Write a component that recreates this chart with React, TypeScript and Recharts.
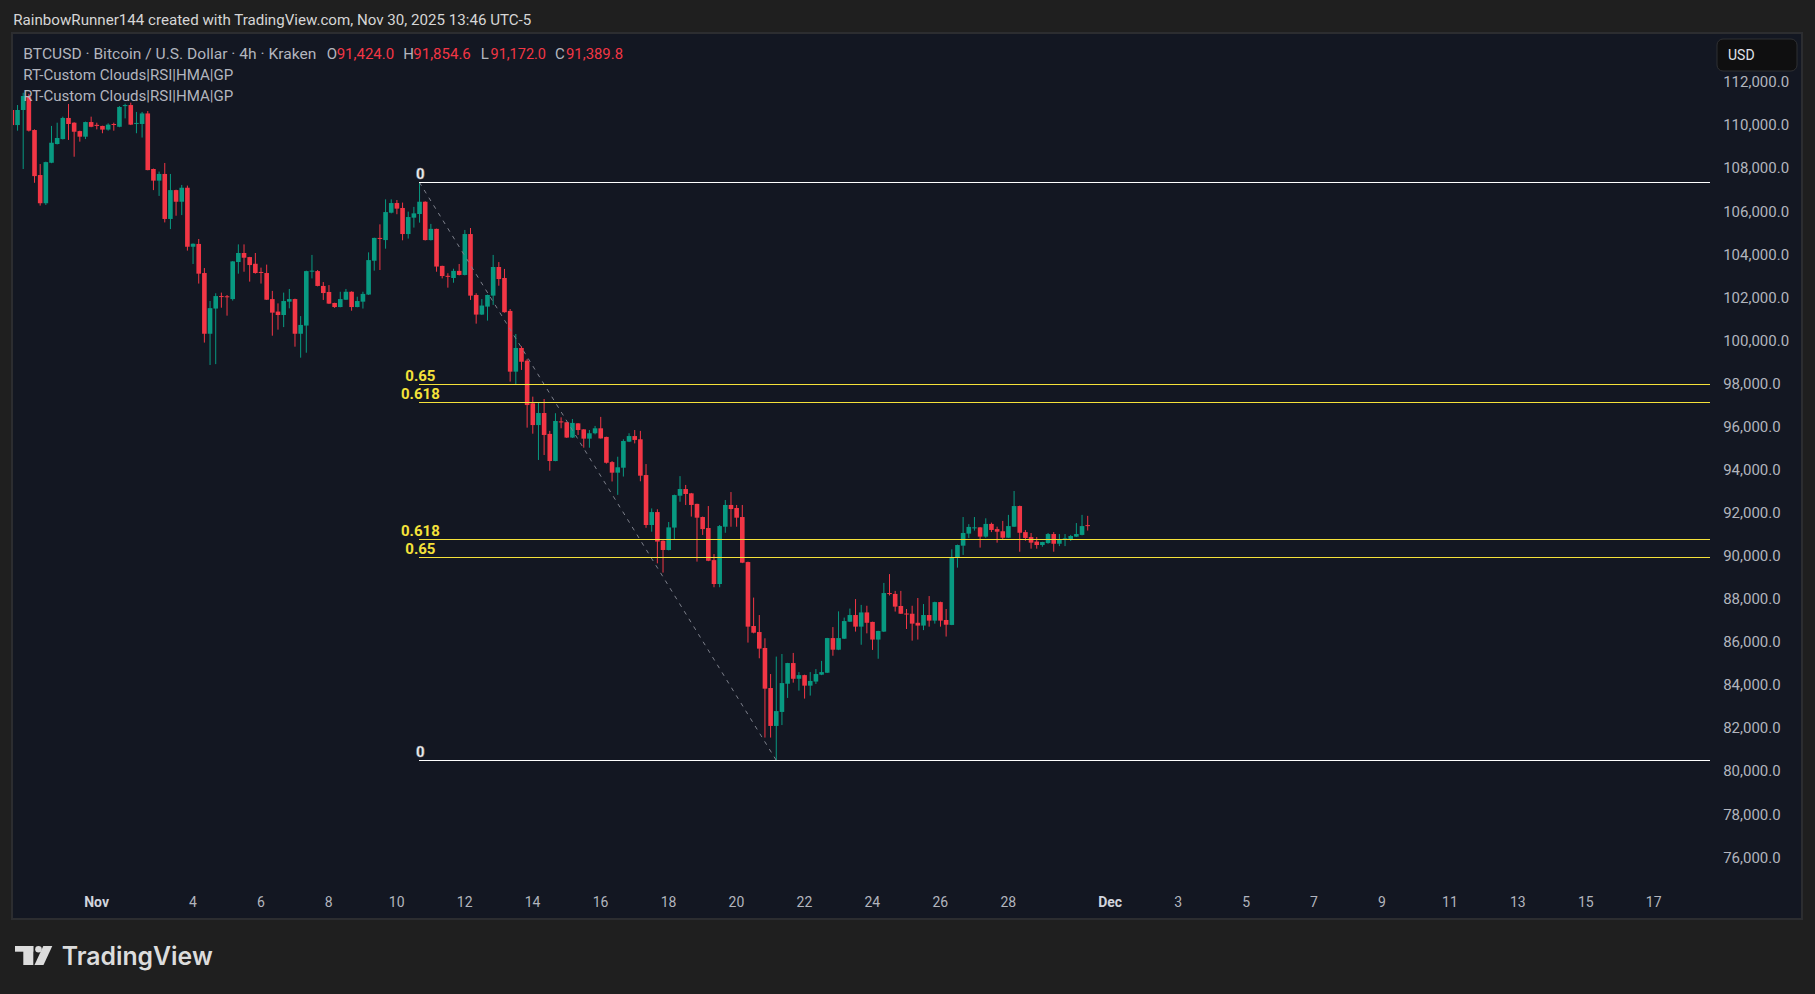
import { Bar, ComposedChart, ReferenceLine, XAxis, YAxis } from 'recharts'

const UP = '#089981'
const DOWN = '#f23645'
const FIB = '#f5e23a'
const AXIS_TEXT = '#b2b5be'
const FONT = 'Roboto, "Noto Sans", sans-serif'

// BTCUSD 4h bars from Kraken, first visible bar (Oct 29) up to the live bar on Nov 30
const opens = [
  110700, 110000, 110700, 111320, 109770, 107680, 106370, 108250, 109120, 109350,
  110330, 110110, 109720, 109460, 110140, 110010, 109960, 109790, 110050, 109920,
  110880, 110930, 110060, 110050, 110540, 107960, 107420, 107730, 105640, 106980,
  106440, 107090, 104350, 104480, 103130, 100310, 101480, 102060, 102050, 101920,
  103640, 104060, 103870, 103560, 103180, 103130, 101920, 101340, 101180, 101800,
  101920, 100310, 100690, 103200, 103220, 102530, 102250, 101740, 101550, 101890,
  102260, 101550, 101800, 102130, 103700, 104760, 104660, 105930, 106380, 106150,
  104940, 105700, 105870, 106440, 104660, 105180, 103460, 103000, 102900, 103230,
  103040, 104940, 102110, 101200, 101570, 102080, 103410, 102900, 101370, 98550,
  99650, 99060, 97080, 96070, 96630, 95660, 94400, 96240, 96200, 95490,
  96150, 95870, 95440, 95690, 95920, 95520, 94350, 93860, 94090, 95300,
  95560, 95410, 93750, 91430, 92030, 90700, 90270, 91310, 92790, 93100,
  92900, 92410, 91800, 91290, 89800, 88690, 91350, 92360, 92220, 91800,
  89710, 86740, 86460, 85720, 83860, 82100, 82750, 84060, 85020, 84290,
  84460, 83970, 84160, 84480, 84570, 86180, 85640, 86150, 86940, 87250,
  86710, 87370, 86930, 86110, 86480, 88270, 88230, 87670, 87320, 87310,
  86890, 86760, 87250, 86990, 87850, 87020, 86790, 89930, 90470, 91030,
  91300, 91320, 90890, 91480, 91240, 91140, 90840, 91350, 92310, 91100,
  90870, 90660, 90500, 90590, 91010, 90560, 90790, 90780, 90890, 90970,
  91424,
]
const highs = [
  110850, 110930, 111500, 111450, 109800, 108190, 108300, 109960, 110110, 110390,
  110980, 110130, 109740, 110160, 110390, 110110, 109970, 110080, 110110, 110880,
  110990, 111040, 110610, 110610, 110650, 107980, 107840, 108240, 107730, 107000,
  107220, 107190, 104500, 104710, 103360, 101830, 102190, 102220, 102110, 103680,
  104460, 104460, 103880, 104060, 103380, 103520, 102300, 101720, 102220, 102390,
  101940, 101130, 103240, 103970, 103270, 102710, 102570, 101750, 102260, 102390,
  102280, 102030, 102260, 104090, 104770, 105390, 106550, 106550, 106520, 106400,
  105980, 106200, 107342, 106460, 105410, 105190, 103470, 103120, 103330, 103550,
  105130, 105220, 102190, 101920, 102130, 103970, 103640, 103320, 101460, 100300,
  99730, 99140, 97390, 97130, 97280, 95800, 96620, 96430, 96210, 96350,
  96160, 95880, 95840, 96030, 96450, 95530, 94400, 94600, 95410, 95690,
  95840, 95800, 94260, 92200, 92160, 90720, 91570, 92840, 93700, 93290,
  92920, 92420, 91820, 92310, 90080, 91430, 92590, 92960, 92360, 92360,
  89730, 88060, 87250, 86170, 84510, 85320, 85440, 85030, 85490, 84600,
  84480, 84600, 84740, 85120, 86190, 86690, 87420, 87130, 87550, 87990,
  87720, 87680, 86940, 86520, 88740, 89150, 88370, 88370, 87530, 87680,
  88040, 87760, 88130, 87870, 87870, 87530, 90300, 90520, 91800, 91470,
  91800, 91330, 91740, 91540, 91350, 91620, 91900, 93010, 92330, 91200,
  91060, 90870, 90650, 91060, 91100, 91010, 91010, 90970, 91520, 91900,
  91854.6,
]
const lows = [
  109950, 109740, 107960, 109700, 107320, 106260, 106290, 108230, 109100, 109330,
  109310, 108530, 109230, 109350, 109900, 109800, 109620, 109740, 109740, 109900,
  110310, 110000, 109620, 109420, 107900, 106980, 106710, 105480, 105170, 105790,
  105820, 104170, 103550, 102640, 99900, 98860, 98900, 101520, 101150, 101850,
  103100, 103190, 102730, 103100, 102640, 101880, 100220, 100500, 100620, 101490,
  99710, 99200, 99430, 102880, 102510, 101880, 101690, 101510, 101540, 101880,
  101380, 101540, 101480, 102110, 103240, 103270, 104260, 105900, 105860, 104650,
  104730, 105240, 105470, 104640, 104640, 103190, 102880, 102450, 102680, 103020,
  103020, 101880, 100780, 101180, 100920, 101650, 102540, 101290, 98090, 97930,
  98630, 95950, 95670, 94450, 94680, 93950, 94390, 95920, 95470, 95470,
  95610, 95020, 95020, 95640, 95440, 94280, 93450, 92830, 93680, 95280,
  95220, 93460, 91300, 91120, 89650, 89220, 90250, 90760, 92510, 92360,
  91820, 89730, 90970, 89750, 88540, 88540, 91070, 91350, 91350, 89660,
  85970, 86400, 85240, 81560, 81560, 80517, 82140, 83400, 84110, 83740,
  83370, 83510, 84050, 84460, 84560, 85360, 85620, 86140, 86930, 86480,
  85870, 86400, 85630, 85220, 86460, 88160, 87410, 87300, 86600, 86060,
  86110, 86550, 86710, 86850, 86710, 86250, 86780, 89450, 90040, 90830,
  91170, 90380, 90840, 91100, 90610, 90780, 90830, 91340, 90190, 90700,
  90330, 90330, 90420, 90560, 90190, 90450, 90450, 90690, 90870, 90950,
  91172,
]
const closes = [
  110000, 110700, 111350, 109740, 107630, 106370, 108280, 109180, 109400, 110330,
  110050, 109690, 109460, 110140, 109920, 109960, 109790, 110020, 110020, 110840,
  110930, 110020, 110100, 110540, 107910, 107420, 107730, 105640, 106980, 106440,
  107090, 104350, 104490, 103100, 100310, 101500, 102060, 102030, 102030, 103670,
  104060, 103840, 103500, 103130, 103140, 101890, 101290, 101180, 101830, 101920,
  100310, 100720, 103220, 103240, 102530, 102200, 101710, 101550, 101920, 102260,
  101550, 101830, 102160, 103730, 104760, 104720, 105960, 106380, 106120, 104940,
  105730, 105900, 106440, 104660, 105180, 103430, 102990, 102970, 103230, 103040,
  104940, 102080, 101200, 101620, 102110, 103410, 102850, 101310, 98550, 99650,
  99010, 97000, 96070, 96630, 95610, 94400, 96260, 96210, 95490, 96170,
  95840, 95440, 95690, 95920, 95450, 94320, 93860, 94110, 95330, 95560,
  95380, 93720, 91430, 92030, 90660, 90270, 91320, 92820, 93100, 92870,
  92360, 91770, 91240, 89770, 88690, 91380, 92360, 92170, 91770, 89680,
  86710, 86430, 85690, 83830, 82100, 82790, 84090, 85020, 84290, 84460,
  83970, 84190, 84510, 84600, 86180, 85640, 86180, 86970, 87250, 86710,
  87370, 86890, 86110, 86510, 88270, 88230, 87640, 87310, 87290, 86850,
  86760, 87250, 86990, 87850, 86990, 86800, 89930, 90500, 91060, 91340,
  91320, 90890, 91480, 91200, 91120, 90840, 91380, 92310, 91070, 90830,
  90610, 90500, 90640, 91010, 90560, 90780, 90810, 90920, 91010, 91380,
  91389.8,
]

const priceTicks = [
  76000, 78000, 80000, 82000, 84000, 86000, 88000, 90000, 92000, 94000,
  96000, 98000, 100000, 102000, 104000, 106000, 108000, 110000, 112000,
]

// bar slot -> time scale label (month names are drawn bold)
const dayTicks = [
  { bar: 15, label: 'Nov' }, { bar: 32, label: '4' }, { bar: 44, label: '6' },
  { bar: 56, label: '8' }, { bar: 68, label: '10' }, { bar: 80, label: '12' },
  { bar: 92, label: '14' }, { bar: 104, label: '16' }, { bar: 116, label: '18' },
  { bar: 128, label: '20' }, { bar: 140, label: '22' }, { bar: 152, label: '24' },
  { bar: 164, label: '26' }, { bar: 176, label: '28' }, { bar: 194, label: 'Dec' },
  { bar: 206, label: '3' }, { bar: 218, label: '5' }, { bar: 230, label: '7' },
  { bar: 242, label: '9' }, { bar: 254, label: '11' }, { bar: 266, label: '13' },
  { bar: 278, label: '15' }, { bar: 290, label: '17' },
]
const months = ['Nov', 'Dec']

// fib retracements, both anchored on the Nov 10 high and the Nov 21 low
const HIGH_BAR = 72
const LOW_BAR = 135
const fibRatios = [0, 0.618, 0.65]

const SLOTS = 301 // bars plus the empty space on the right of the chart

const fmtPrice = (v: number) =>
  v.toLocaleString('en-US', { minimumFractionDigits: 1, maximumFractionDigits: 1 })

function renderCandle(props: any) {
  const { x, y, width, height, payload } = props
  if (!payload || payload.o == null || !Number.isFinite(y) || !height) return <g />
  const top = Math.min(y, y + height)
  const span = Math.abs(height)
  const { o, h, l, c } = payload
  const py = (v: number) => top + ((h - v) / (h - l)) * span
  const cx = x + width / 2
  const color = c >= o ? UP : DOWN
  const bodyTop = py(Math.max(o, c))
  const bodyBottom = py(Math.min(o, c))
  return (
    <g>
      <line x1={cx} x2={cx} y1={top} y2={top + span} stroke={color} strokeWidth={1} />
      <rect x={cx - 2.3} y={bodyTop} width={4.6} height={Math.max(1, bodyBottom - bodyTop)} fill={color} />
    </g>
  )
}

function DayTick(props: any) {
  const { x, y, payload } = props
  const tick = dayTicks.find((t) => t.bar === payload.value)
  if (!tick) return <g />
  const month = months.includes(tick.label)
  return (
    <text
      x={x}
      y={y + 19}
      textAnchor="middle"
      fill={month ? '#d1d4dc' : AXIS_TEXT}
      fontSize={14}
      fontWeight={month ? 700 : 400}
      fontFamily={FONT}
    >
      {tick.label}
    </text>
  )
}

function FibLabel(props: any) {
  const { viewBox, text, color } = props
  if (!viewBox) return null
  return (
    <text
      x={viewBox.x + 1}
      y={viewBox.y - 3.5}
      textAnchor="middle"
      fill={color}
      stroke={text === '0' ? '#8a8d96' : 'none'}
      strokeWidth={0.6}
      fontSize={15}
      fontWeight={700}
      fontFamily={FONT}
    >
      {text}
    </text>
  )
}

export default function App() {
  const rows = Array.from({ length: SLOTS }, (_, i) =>
    i < opens.length
      ? { i, o: opens[i], h: highs[i], l: lows[i], c: closes[i], range: [lows[i], highs[i]] }
      : { i },
  )
  const swingHigh = highs[HIGH_BAR]
  const swingLow = lows[LOW_BAR]
  const swing = swingHigh - swingLow
  const fibLevels = [
    ...fibRatios.map((r) => ({ price: swingHigh - r * swing, text: String(r) })),
    ...fibRatios.map((r) => ({ price: swingLow + r * swing, text: String(r) })),
  ]

  return (
    <div
      style={{
        position: 'absolute',
        left: 0,
        top: 0,
        width: 1815,
        height: 994,
        background: '#1f1f1f',
        overflow: 'hidden',
        fontFamily: FONT,
      }}
    >
      <div
        style={{
          position: 'absolute',
          left: 11,
          top: 32,
          width: 1792,
          height: 888,
          boxSizing: 'border-box',
          border: '2px solid #2c2d30',
          background: '#131722',
          overflow: 'hidden',
        }}
      >
        <div style={{ position: 'absolute', left: -13, top: -34 }}>
          <ComposedChart
            width={1815}
            height={994}
            data={rows}
            margin={{ top: 35, right: 21.8, bottom: 76, left: 8.87 }}
            barCategoryGap={0}
            barGap={0}
          >
            <XAxis
              dataKey="i"
              interval={0}
              tick={<DayTick />}
              tickLine={false}
              axisLine={false}
              tickSize={0}
              tickMargin={0}
              height={30}
            />
            <YAxis
              orientation="right"
              domain={[74575, 114182]}
              allowDataOverflow
              ticks={priceTicks}
              interval={0}
              tickFormatter={fmtPrice}
              tick={{ fill: AXIS_TEXT, fontSize: 15, fontFamily: FONT }}
              tickLine={false}
              axisLine={false}
              tickSize={0}
              tickMargin={10}
              width={80}
            />
            <Bar dataKey="range" shape={renderCandle} isAnimationActive={false} />
            <ReferenceLine
              segment={[
                { x: HIGH_BAR, y: swingHigh },
                { x: LOW_BAR, y: swingLow },
              ]}
              stroke="#7c7f8a"
              strokeDasharray="4 5"
              strokeWidth={1}
            />
            {fibLevels.map((f, k) => (
              <ReferenceLine
                key={k}
                segment={[
                  { x: HIGH_BAR, y: f.price },
                  { x: SLOTS - 1, y: f.price },
                ]}
                stroke={f.text === '0' ? '#ffffff' : FIB}
                strokeWidth={1}
                shapeRendering="crispEdges"
                label={<FibLabel text={f.text} color={f.text === '0' ? '#ffffff' : FIB} />}
              />
            ))}
          </ComposedChart>
        </div>
      </div>

      <svg
        width={1815}
        height={994}
        style={{ position: 'absolute', left: 0, top: 0, pointerEvents: 'none' }}
        fontFamily={FONT}
      >
        <text x={13.3} y={25} fill="#d6d6d6" fontSize={15} textLength={518} lengthAdjust="spacingAndGlyphs">
          RainbowRunner144 created with TradingView.com, Nov 30, 2025 13:46 UTC-5
        </text>

        <g fontSize={15} fill={AXIS_TEXT}>
          <text x={23.3} y={59} textLength={293} lengthAdjust="spacingAndGlyphs">
            BTCUSD · Bitcoin / U.S. Dollar · 4h · Kraken
          </text>
          <text x={326.7} y={59}>O</text>
          <text x={336.7} y={59} fill={DOWN} textLength={57.5} lengthAdjust="spacingAndGlyphs">
            {fmtPrice(opens[opens.length - 1])}
          </text>
          <text x={403.3} y={59}>H</text>
          <text x={413.3} y={59} fill={DOWN} textLength={57.5} lengthAdjust="spacingAndGlyphs">
            {fmtPrice(highs[highs.length - 1])}
          </text>
          <text x={480.7} y={59}>L</text>
          <text x={490.5} y={59} fill={DOWN} textLength={55.5} lengthAdjust="spacingAndGlyphs">
            {fmtPrice(lows[lows.length - 1])}
          </text>
          <text x={555} y={59}>C</text>
          <text x={566} y={59} fill={DOWN} textLength={57} lengthAdjust="spacingAndGlyphs">
            {fmtPrice(closes[closes.length - 1])}
          </text>
          <text x={23.3} y={80} textLength={210} lengthAdjust="spacingAndGlyphs">
            RT-Custom Clouds|RSI|HMA|GP
          </text>
          <text x={23.3} y={100.7} textLength={210} lengthAdjust="spacingAndGlyphs">
            RT-Custom Clouds|RSI|HMA|GP
          </text>
        </g>

        <rect x={1717} y={39} width={80} height={32} rx={6} fill="#0f0f10" stroke="#2f3033" />
        <text x={1728} y={60} fill="#e0e3eb" fontSize={14}>
          USD
        </text>

        <g fill="#dcdcdc">
          <rect x={15} y={946} width={18.3} height={5.7} />
          <rect x={23.3} y={946} width={10} height={19} />
          <circle cx={38.5} cy={949.2} r={3.3} />
          <polygon points="43.3,946 52.3,946 43.5,965 34.5,965" />
          <text
            x={61.7}
            y={965}
            fontFamily="Inter, Roboto, sans-serif"
            fontWeight={600}
            fontSize={25}
            textLength={151}
            lengthAdjust="spacingAndGlyphs"
          >
            TradingView
          </text>
        </g>
      </svg>
    </div>
  )
}
